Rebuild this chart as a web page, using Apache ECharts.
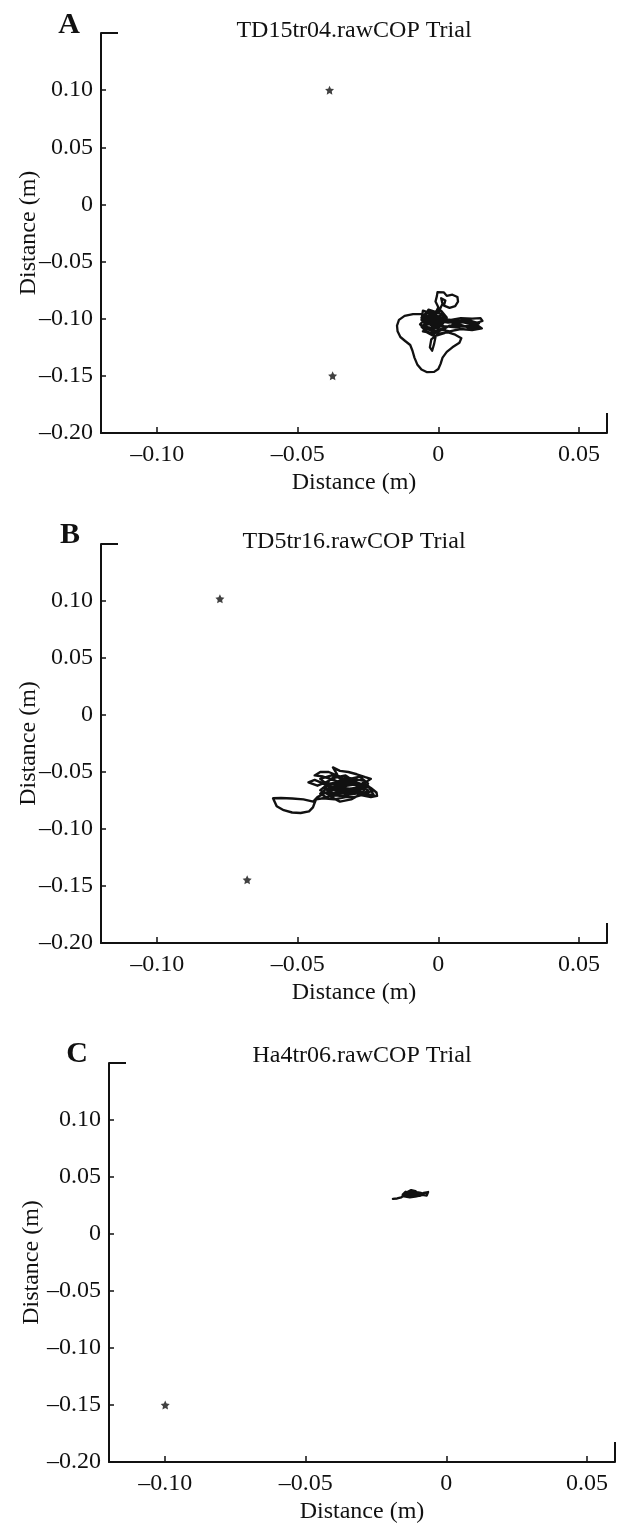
<!DOCTYPE html>
<html>
<head>
<meta charset="utf-8">
<script src="https://cdn.jsdelivr.net/npm/echarts@6/dist/echarts.min.js"></script>
<style>html,body{margin:0;padding:0;background:#fff}#c{width:626px;height:1529px}</style>
</head>
<body>
<div id="c"></div>
<script>
// ---- data ----
const panelLetters = ['A', 'B', 'C'];
const trialTitles = ['TD15tr04.rawCOP Trial', 'TD5tr16.rawCOP Trial', 'Ha4tr06.rawCOP Trial'];
const axisName = 'Distance (m)';
const xMin = -0.12, xMax = 0.06, yMin = -0.20, yMax = 0.15;
const xTickValues = [-0.10, -0.05, 0, 0.05];
const xTickLabels = ['\u20130.10', '\u20130.05', '0', '0.05'];
const yTickValues = [-0.20, -0.15, -0.10, -0.05, 0, 0.05, 0.10];
const yTickLabels = ['\u20130.20', '\u20130.15', '\u20130.10', '\u20130.05', '0', '0.05', '0.10'];

const markersA = [[-0.0387, 0.1000], [-0.0376, -0.1500]];
const markersB = [[-0.0777, 0.1020], [-0.0680, -0.1445]];
const markersC = [[-0.1000, -0.1500]];

const copTraceA = [
  [-0.0020,-0.1000],[0.0020,-0.0960],[-0.0040,-0.0940],[-0.0060,-0.0990],[-0.0010,-0.1030],
  [0.0030,-0.0990],[0.0010,-0.0930],[-0.0035,-0.0975],[-0.0065,-0.1050],[-0.0030,-0.1100],
  [0.0015,-0.1060],[0.0030,-0.1120],[-0.0010,-0.1150],[-0.0050,-0.1100],[-0.0045,-0.1030],
  [0.0000,-0.1080],[0.0025,-0.1020],[-0.0015,-0.0960],[-0.0055,-0.0930],[-0.0060,-0.1010],
  [-0.0020,-0.1060],[0.0010,-0.1000],[0.0045,-0.1010],
  [0.0080,-0.0995],[0.0120,-0.1000],[0.0150,-0.0995],[0.0157,-0.1020],[0.0130,-0.1040],
  [0.0090,-0.1030],[0.0050,-0.1050],[0.0090,-0.1070],[0.0140,-0.1060],[0.0155,-0.1085],
  [0.0120,-0.1100],[0.0080,-0.1090],[0.0040,-0.1110],[0.0000,-0.1090],[-0.0030,-0.1050],
  [0.0010,-0.1030],[0.0060,-0.1020],[0.0110,-0.1015],[0.0145,-0.1040],[0.0110,-0.1060],
  [0.0060,-0.1075],[0.0020,-0.1065],
  [-0.0020,-0.1010],[-0.0010,-0.0950],[0.0000,-0.0900],[-0.0010,-0.0850],[-0.0005,-0.0800],
  [-0.0003,-0.0768],[0.0020,-0.0770],[0.0030,-0.0800],[0.0050,-0.0790],[0.0068,-0.0810],
  [0.0070,-0.0850],[0.0060,-0.0890],[0.0040,-0.0905],[0.0020,-0.0885],[0.0025,-0.0840],
  [0.0010,-0.0820],[0.0015,-0.0870],[0.0005,-0.0920],
  [-0.0030,-0.0960],[-0.0050,-0.1040],[-0.0020,-0.1120],[0.0020,-0.1080],[0.0000,-0.1010],
  [-0.0040,-0.1000],[-0.0060,-0.0960],
  [-0.0090,-0.0960],[-0.0120,-0.0975],[-0.0140,-0.1010],[-0.0147,-0.1060],[-0.0145,-0.1110],
  [-0.0135,-0.1160],[-0.0118,-0.1195],[-0.0100,-0.1230],[-0.0092,-0.1280],[-0.0085,-0.1340],
  [-0.0075,-0.1400],[-0.0060,-0.1445],[-0.0040,-0.1468],[-0.0015,-0.1465],[0.0000,-0.1440],
  [0.0008,-0.1395],[0.0015,-0.1340],[0.0030,-0.1290],[0.0050,-0.1250],[0.0075,-0.1210],
  [0.0082,-0.1170],[0.0060,-0.1140],[0.0035,-0.1120],
  [0.0000,-0.1130],[-0.0025,-0.1180],[-0.0030,-0.1250],[-0.0022,-0.1280],[-0.0015,-0.1220],
  [-0.0010,-0.1160],
  [-0.0040,-0.1120],[-0.0060,-0.1070],[-0.0035,-0.1020],[0.0010,-0.1050],[0.0030,-0.1000],
  [-0.0010,-0.0980],
  [-0.0040,-0.0950],[-0.0010,-0.0990],[-0.0050,-0.1010],[-0.0020,-0.1040],[-0.0060,-0.1060],
  [-0.0025,-0.1080],[-0.0055,-0.1110],[-0.0015,-0.1130],[0.0010,-0.1100],[-0.0020,-0.1070],
  [0.0015,-0.1040],[-0.0010,-0.1010],[0.0025,-0.0980],[-0.0005,-0.0945],[-0.0035,-0.0920],
  [-0.0045,-0.0970],[-0.0015,-0.1000],[-0.0045,-0.1040],[-0.0010,-0.1060],[-0.0040,-0.1090],
  [-0.0005,-0.1110],[0.0020,-0.1090],[0.0040,-0.1060],[0.0075,-0.1050],[0.0110,-0.1080],
  [0.0145,-0.1075],[0.0115,-0.1045],[0.0075,-0.1025],[0.0035,-0.1035],[0.0000,-0.1020],
  [-0.0030,-0.0985]
];

const copTraceB = [
  [-0.0350,-0.0600],[-0.0300,-0.0560],[-0.0260,-0.0580],[-0.0290,-0.0640],[-0.0340,-0.0660],
  [-0.0390,-0.0620],[-0.0420,-0.0560],[-0.0380,-0.0530],[-0.0330,-0.0570],[-0.0280,-0.0540],
  [-0.0250,-0.0600],[-0.0270,-0.0680],[-0.0320,-0.0700],[-0.0370,-0.0660],[-0.0410,-0.0600],
  [-0.0440,-0.0570],[-0.0462,-0.0590],[-0.0430,-0.0620],[-0.0390,-0.0580],[-0.0360,-0.0520],
  [-0.0375,-0.0460],[-0.0350,-0.0490],[-0.0320,-0.0500],[-0.0290,-0.0520],[-0.0260,-0.0545],
  [-0.0240,-0.0560],[-0.0265,-0.0600],[-0.0240,-0.0640],[-0.0220,-0.0680],[-0.0218,-0.0710],
  [-0.0240,-0.0720],[-0.0280,-0.0700],[-0.0310,-0.0740],[-0.0350,-0.0760],[-0.0380,-0.0720],
  [-0.0350,-0.0680],[-0.0300,-0.0660],[-0.0260,-0.0640],[-0.0300,-0.0610],[-0.0350,-0.0630],
  [-0.0400,-0.0650],[-0.0420,-0.0690],[-0.0400,-0.0720],[-0.0360,-0.0700],[-0.0330,-0.0620],
  [-0.0370,-0.0570],[-0.0410,-0.0540],[-0.0440,-0.0530],[-0.0420,-0.0500],[-0.0390,-0.0500],
  [-0.0350,-0.0540],[-0.0310,-0.0600],[-0.0280,-0.0620],[-0.0250,-0.0660],[-0.0270,-0.0700],
  [-0.0300,-0.0720],[-0.0330,-0.0720],[-0.0370,-0.0740],[-0.0410,-0.0730],[-0.0435,-0.0740],
  [-0.0440,-0.0770],[-0.0446,-0.0810],[-0.0460,-0.0845],[-0.0490,-0.0860],[-0.0520,-0.0855],
  [-0.0550,-0.0835],[-0.0575,-0.0800],[-0.0588,-0.0730],[-0.0560,-0.0728],[-0.0520,-0.0732],
  [-0.0480,-0.0740],[-0.0445,-0.0760],
  [-0.0430,-0.0720],[-0.0400,-0.0680],[-0.0360,-0.0640],[-0.0320,-0.0580],[-0.0290,-0.0590],
  [-0.0260,-0.0620],[-0.0230,-0.0660],[-0.0260,-0.0690],[-0.0310,-0.0670],[-0.0350,-0.0610],
  [-0.0380,-0.0600],[-0.0340,-0.0570],
  [-0.0310,-0.0560],[-0.0350,-0.0580],[-0.0320,-0.0610],[-0.0360,-0.0640],[-0.0320,-0.0650],
  [-0.0280,-0.0630],[-0.0310,-0.0680],[-0.0350,-0.0690],[-0.0390,-0.0680],[-0.0360,-0.0620],
  [-0.0400,-0.0590],[-0.0370,-0.0550],[-0.0330,-0.0530],[-0.0300,-0.0580],[-0.0270,-0.0610],
  [-0.0300,-0.0650],[-0.0340,-0.0640],[-0.0380,-0.0660],[-0.0340,-0.0600],[-0.0300,-0.0600],
  [-0.0290,-0.0560],[-0.0330,-0.0550],[-0.0380,-0.0610],[-0.0410,-0.0640],[-0.0370,-0.0690],
  [-0.0320,-0.0680],[-0.0280,-0.0660],[-0.0260,-0.0700],[-0.0230,-0.0700],[-0.0250,-0.0620],
  [-0.0290,-0.0600],[-0.0330,-0.0600],[-0.0370,-0.0630],[-0.0340,-0.0670],[-0.0300,-0.0690],
  [-0.0340,-0.0710],[-0.0390,-0.0700],[-0.0420,-0.0660],[-0.0400,-0.0620],[-0.0360,-0.0600]
];

const copTraceC = [
  [-0.0190,0.0308],[-0.0175,0.0312],[-0.0160,0.0322],[-0.0150,0.0340],[-0.0140,0.0365],
  [-0.0125,0.0385],[-0.0110,0.0375],[-0.0100,0.0355],[-0.0120,0.0340],[-0.0140,0.0330],
  [-0.0155,0.0345],[-0.0145,0.0370],[-0.0120,0.0360],[-0.0095,0.0345],[-0.0080,0.0360],
  [-0.0065,0.0368],[-0.0058,0.0352],[-0.0070,0.0338],[-0.0090,0.0345],[-0.0105,0.0330],
  [-0.0130,0.0322],[-0.0150,0.0330],[-0.0135,0.0355],[-0.0110,0.0368],[-0.0090,0.0360],
  [-0.0110,0.0340],[-0.0130,0.0345],[-0.0120,0.0330],[-0.0095,0.0335],[-0.0080,0.0350]
];

// ---- layout ----
const FONT = '"Liberation Serif", "Times New Roman", serif';
const INK = '#111';
const grids = [
  { left: 101, top: 33, width: 506, height: 400, outerBoundsMode: 'none' },
  { left: 101, top: 544, width: 506, height: 399, outerBoundsMode: 'none' },
  { left: 109, top: 1063, width: 506, height: 399, outerBoundsMode: 'none' }
];
const yNameGaps = [60, 60, 65];
const traceWidths = [2.3, 2.4, 2.4];
const traces = [copTraceA, copTraceB, copTraceC];
const markers = [markersA, markersB, markersC];
const letterPos = [[69, 25], [70, 535], [77, 1054]];
const titleY = [31, 542, 1056];

function lookup(values, labels) {
  return function (v) {
    const i = values.findIndex(t => Math.abs(t - v) < 1e-9);
    return i >= 0 ? labels[i] : '';
  };
}

const starPath = 'path://M0,-10 L2.9,-4 L9.5,-3.1 L4.7,1.5 L5.9,8.1 L0,5 L-5.9,8.1 L-4.7,1.5 L-9.5,-3.1 L-2.9,-4 Z';

const option = {
  animation: false,
  backgroundColor: '#fff',
  grid: grids,
  xAxis: grids.map((g, i) => ({
    type: 'value', gridIndex: i, min: xMin, max: xMax,
    name: axisName, nameLocation: 'middle', nameGap: 38, nameMoveOverlap: false,
    nameTextStyle: { fontFamily: FONT, fontSize: 24, color: INK },
    axisLine: { show: true, onZero: false, lineStyle: { color: INK, width: 2 } },
    axisTick: { show: true, inside: true, length: 6, customValues: xTickValues, lineStyle: { color: INK, width: 1.5 } },
    axisLabel: { show: true, margin: 10, customValues: xTickValues, formatter: lookup(xTickValues, xTickLabels),
      fontFamily: FONT, fontSize: 24, color: INK },
    splitLine: { show: false }
  })),
  yAxis: grids.map((g, i) => ({
    type: 'value', gridIndex: i, min: yMin, max: yMax,
    name: axisName, nameLocation: 'middle', nameGap: yNameGaps[i], nameRotate: 90, nameMoveOverlap: false,
    nameTextStyle: { fontFamily: FONT, fontSize: 24, color: INK },
    axisLine: { show: true, onZero: false, lineStyle: { color: INK, width: 2 } },
    axisTick: { show: true, inside: true, length: 5, customValues: yTickValues, lineStyle: { color: INK, width: 1.5 } },
    axisLabel: { show: true, margin: 8, customValues: yTickValues, formatter: lookup(yTickValues, yTickLabels),
      fontFamily: FONT, fontSize: 24, color: INK },
    splitLine: { show: false }
  })),
  series: [].concat(
    traces.map((d, i) => ({
      type: 'line', xAxisIndex: i, yAxisIndex: i, data: d, showSymbol: false,
      lineStyle: { color: INK, width: traceWidths[i], join: 'round', cap: 'round' }, silent: true
    })),
    markers.map((d, i) => ({
      type: 'scatter', xAxisIndex: i, yAxisIndex: i, data: d, symbol: starPath, symbolSize: 9,
      itemStyle: { color: INK }, silent: true
    }))
  ),
  graphic: [].concat(
    panelLetters.map((t, i) => ({
      type: 'text', x: letterPos[i][0], y: letterPos[i][1],
      style: { text: t, font: 'bold 30px ' + FONT, fill: INK, textAlign: 'center', textVerticalAlign: 'middle' }
    })),
    trialTitles.map((t, i) => ({
      type: 'text', x: grids[i].left + grids[i].width / 2, y: titleY[i],
      style: { text: t, font: '24px ' + FONT, fill: INK, textAlign: 'center', textVerticalAlign: 'middle' }
    }))
  )
};

const chart = echarts.init(document.getElementById('c'), null, { renderer: 'canvas' });
chart.setOption(option);

// axis-end stubs (top of y axis, right end of x axis), placed from the axes' own scales
const stubs = [];
grids.forEach((g, i) => {
  const tl = chart.convertToPixel({ gridIndex: i }, [xMin, yMax]);
  const br = chart.convertToPixel({ gridIndex: i }, [xMax, yMin]);
  stubs.push({ type: 'line', shape: { x1: tl[0], y1: tl[1], x2: tl[0] + 17, y2: tl[1] }, style: { stroke: INK, lineWidth: 2 } });
  stubs.push({ type: 'line', shape: { x1: br[0], y1: br[1], x2: br[0], y2: br[1] - 20 }, style: { stroke: INK, lineWidth: 2 } });
});
chart.setOption({ graphic: option.graphic.concat(stubs) });
</script>
</body>
</html>
